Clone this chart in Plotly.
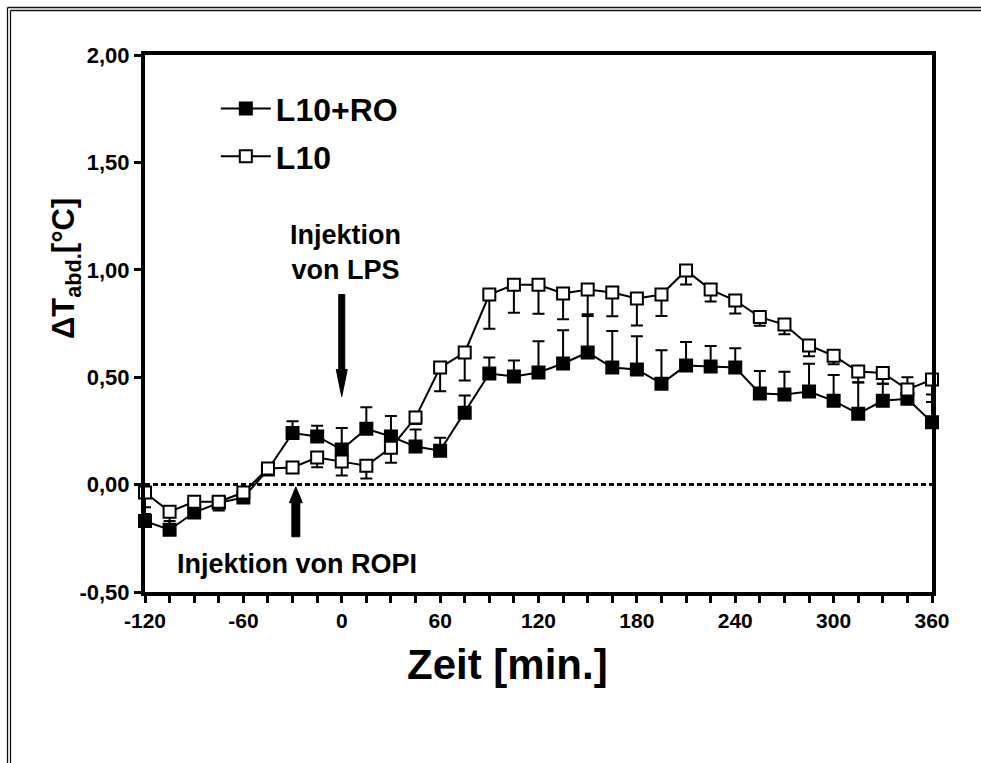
import plotly.graph_objects as go

# ---- data ----
zeit = [-120, -105, -90, -75, -60, -45, -30, -15, 0, 15, 30, 45, 60, 75, 90, 105,
        120, 135, 150, 165, 180, 195, 210, 225, 240, 255, 270, 285, 300, 315, 330, 345, 360]

l10_ro = [-0.17, -0.21, -0.13, -0.085, -0.06, 0.07, 0.24, 0.224, 0.163, 0.26, 0.224, 0.177,
          0.158, 0.335, 0.517, 0.503, 0.522, 0.564, 0.615, 0.545, 0.536, 0.47, 0.554, 0.55,
          0.545, 0.424, 0.42, 0.433, 0.39, 0.33, 0.39, 0.40, 0.29]
l10_ro_err = [0.065, 0.04, 0.03, 0.02, 0.02, 0.02, 0.055, 0.05, 0.10, 0.10, 0.095, 0.08,
              0.06, 0.08, 0.075, 0.075, 0.145, 0.155, 0.17, 0.17, 0.155, 0.155, 0.11, 0.095,
              0.09, 0.105, 0.105, 0.13, 0.12, 0.145, 0.08, 0.10, 0.13]

l10 = [-0.037, -0.126, -0.08, -0.08, -0.037, 0.075, 0.08, 0.126, 0.107, 0.088, 0.172, 0.312,
       0.545, 0.615, 0.885, 0.93, 0.93, 0.89, 0.908, 0.894, 0.866, 0.885, 0.997, 0.908,
       0.857, 0.78, 0.745, 0.648, 0.60, 0.526, 0.52, 0.443, 0.489]
l10_err = [0.10, 0.07, 0.03, 0.04, 0.02, 0.02, 0.02, 0.045, 0.065, 0.06, 0.07, 0.03,
           0.11, 0.13, 0.16, 0.13, 0.135, 0.12, 0.115, 0.11, 0.125, 0.10, 0.065, 0.055,
           0.06, 0.04, 0.045, 0.05, 0.04, 0.05, 0.05, 0.03, 0.105]

series_names = ["L10+RO", "L10"]
y_tickvals = [-0.5, 0.0, 0.5, 1.0, 1.5, 2.0]
y_ticktext = ["-0,50", "0,00", "0,50", "1,00", "1,50", "2,00"]
x_tickvals = [-120, -60, 0, 60, 120, 180, 240, 300, 360]
x_ticktext = ["-120", "-60", "0", "60", "120", "180", "240", "300", "360"]

FONT = "Liberation Sans, Arial, sans-serif"
zeros = [0] * len(zeit)

fig = go.Figure()
fig.add_trace(go.Scatter(
    x=zeit, y=l10_ro, name=series_names[0], mode="lines+markers",
    line=dict(color="black", width=2),
    marker=dict(symbol="square", size=12, color="black", line=dict(color="black", width=2)),
    error_y=dict(type="data", symmetric=False, array=l10_ro_err, arrayminus=zeros,
                 color="black", thickness=2, width=6),
    cliponaxis=False, legendgroup="a",
))
fig.add_trace(go.Scatter(
    x=zeit, y=l10, name=series_names[1], mode="lines+markers",
    line=dict(color="black", width=2),
    marker=dict(symbol="square", size=12, color="white", line=dict(color="black", width=2)),
    error_y=dict(type="data", symmetric=False, array=zeros, arrayminus=l10_err,
                 color="black", thickness=2, width=6),
    cliponaxis=False, legendgroup="b",
))

shapes = [
    # dotted zero line
    dict(type="line", xref="x", yref="y", x0=-120, x1=360, y0=0, y1=0,
         line=dict(color="black", width=3, dash="5px,3px"), layer="below"),
    # LPS arrow (pointing down)
    dict(type="path", xref="x", yref="y", xsizemode="pixel", ysizemode="pixel",
         xanchor=0, yanchor=0.41,
         path="M0,0 L-5.5,27 L-3,27 L-3,102 L3,102 L3,27 L5.5,27 Z",
         fillcolor="black", line=dict(color="black", width=1)),
    # ROPI arrow (pointing up)
    dict(type="path", xref="x", yref="y", xsizemode="pixel", ysizemode="pixel",
         xanchor=-28, yanchor=-0.01,
         path="M0,0 L-6.5,-16 L-4,-16 L-4,-50 L4,-50 L4,-16 L6.5,-16 Z",
         fillcolor="black", line=dict(color="black", width=1)),
]
# outer double frame (top and left)
for off in (0, 3):
    shapes.append(dict(type="line", xref="paper", yref="paper", xsizemode="pixel",
                       ysizemode="pixel", xanchor=0, yanchor=1,
                       x0=-137.5 + off, x1=836, y0=47.5 - off, y1=47.5 - off,
                       line=dict(color="#111111", width=1.3)))
    shapes.append(dict(type="line", xref="paper", yref="paper", xsizemode="pixel",
                       ysizemode="pixel", xanchor=0, yanchor=0,
                       x0=-137.5 + off, x1=-137.5 + off, y0=584.5 - off, y1=-171,
                       line=dict(color="#111111", width=1.3)))

annotations = [
    dict(text="Injektion<br>von LPS", x=2, y=1.08, xref="x", yref="y", showarrow=False,
         font=dict(family=FONT, size=27, color="black", weight="bold")),
    dict(text="Injektion von ROPI", x=-27, y=-0.368, xref="x", yref="y", showarrow=False,
         font=dict(family=FONT, size=27, color="black", weight="bold")),
    # x axis title
    dict(text="Zeit [min.]", xref="paper", yref="paper", x=(507 - 145) / 787,
         y=(592 - 664) / 537, xanchor="center", yanchor="middle", showarrow=False,
         font=dict(family=FONT, size=42, color="black", weight="bold")),
    # y axis title
    dict(text="ΔT<sub>abd.</sub>[°C]", xref="paper", yref="paper", x=(66 - 145) / 787,
         y=(592 - 269) / 537, xanchor="center", yanchor="middle", showarrow=False,
         textangle=-90,
         font=dict(family=FONT, size=31, color="black", weight="bold")),
]

fig.update_layout(
    width=981, height=763,
    margin=dict(l=145, r=49, t=55, b=171),
    paper_bgcolor="white", plot_bgcolor="white",
    shapes=shapes, annotations=annotations,
    showlegend=True,
    legend=dict(x=0.09, y=0.951, xanchor="left", yanchor="top",
                font=dict(family=FONT, size=32, color="black", weight="bold"),
                bgcolor="rgba(0,0,0,0)", itemwidth=50, tracegroupgap=3,
                traceorder="grouped"),
    font=dict(family=FONT, color="black"),
)
fig.update_xaxes(
    range=[-120, 360], showline=True, linewidth=4, linecolor="black", mirror=True,
    showgrid=False, zeroline=False,
    tickvals=x_tickvals, ticktext=x_ticktext, ticks="outside", ticklen=7, tickwidth=3,
    tickcolor="black",
    minor=dict(dtick=15, tick0=0, ticks="outside", ticklen=7, tickwidth=3, tickcolor="black"),
    tickfont=dict(family=FONT, size=21, color="black", weight="bold"),
)
fig.update_yaxes(
    range=[-0.5, 2.0], showline=True, linewidth=4, linecolor="black", mirror=True,
    showgrid=False, zeroline=False,
    tickvals=y_tickvals, ticktext=y_ticktext, ticks="outside", ticklen=7, tickwidth=3,
    tickcolor="black",
    tickfont=dict(family=FONT, size=22, color="black", weight="bold"),
)

fig.write_html("out.html", config={"displayModeBar": False})
